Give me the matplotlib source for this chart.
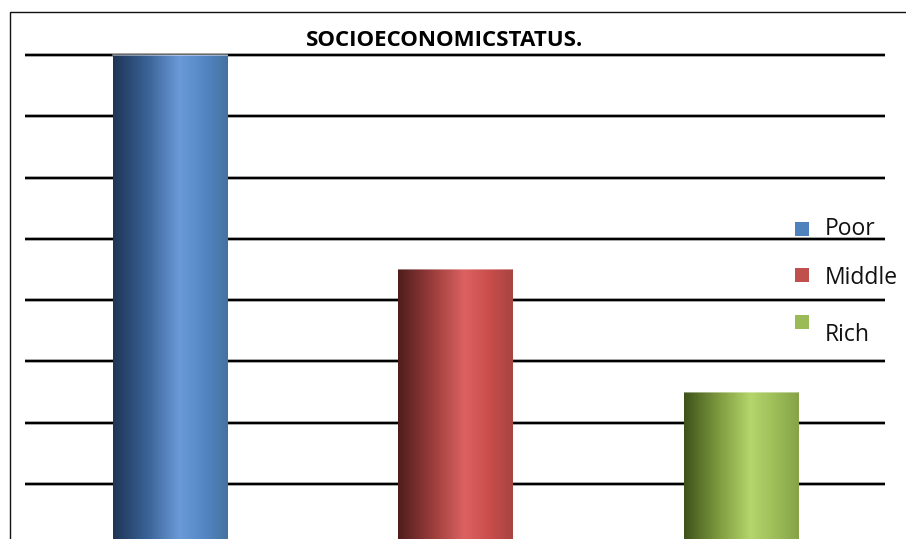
import matplotlib
matplotlib.use("Agg")
import matplotlib.pyplot as plt
import numpy as np
from matplotlib.colors import LinearSegmentedColormap
from matplotlib.patches import Rectangle

# data
categories = ["Poor", "Middle", "Rich"]
values = [80, 45, 25]
colors = ["#4f81bd", "#c0504d", "#9bbb59"]
shades = [
    ["#1e3556", "#3a6396", "#6a9ad8", "#5586c4", "#45729f"],
    ["#4e1d1c", "#9a3d3b", "#dc6262", "#c84d4b", "#a84442"],
    ["#3e521a", "#7e9a3e", "#b4d66c", "#9cbc58", "#86a348"],
]
grid_values = [10, 20, 30, 40, 50, 60, 70, 80]
title = "SOCIOECONOMICSTATUS."

W, H = 906, 539
fig = plt.figure(figsize=(W / 100, H / 100), dpi=100)

# outer frame (bottom and right run off the picture)
fig.patches.append(Rectangle((10 / W, -0.1), 1.2, 1.1 - 11.5 / H,
                             transform=fig.transFigure, fill=False,
                             edgecolor="#111111", linewidth=1.0))

# axes: value 0 at y=545px, 80 at y=55px; x from 25 to 885px
y0 = (H - 545) / H
hpx = 545 - 55
ax = fig.add_axes([25 / W, y0, (885 - 25) / W, (hpx * 85 / 80) / H])
ax.axis("off")

for g in grid_values:
    ax.axhline(g, color="#b8b8b8", linewidth=2.8, zorder=1)
    ax.axhline(g, color="black", linewidth=1.6, zorder=1.1)

x = np.arange(len(categories))
bars = ax.bar(x, values, width=0.40, color=colors, zorder=2,
              edgecolor="none")

for bar, sh in zip(bars, shades):
    cmap = LinearSegmentedColormap.from_list(
        "c", list(zip([0.0, 0.3, 0.58, 0.8, 1.0], sh)))
    grad = np.linspace(0, 1, 256).reshape(1, -1)
    bx, by = bar.get_x(), bar.get_y()
    bw, bh = bar.get_width(), bar.get_height()
    im = ax.imshow(grad, extent=[bx, bx + bw, by, by + bh], aspect="auto",
                   cmap=cmap, zorder=3, interpolation="bicubic")
    im.set_clip_path(bar)
    # faint light rim at the top of each bar
    ax.plot([bx, bx + bw], [by + bh, by + bh], color="white", alpha=0.5,
            linewidth=1.2, zorder=4)
ax.set_xlim(-0.508, 2.504)
ax.set_ylim(0, 85)

fig.text(445 / W, 1 - 46 / H, title, ha="center", va="baseline",
         fontsize=16, fontweight="bold", family="Open Sans")

# legend
sq_y = [229.5, 275, 322]
txt_y = [235, 284, 341]
for lab, c, sy, ty in zip(categories, colors, sq_y, txt_y):
    fig.patches.append(Rectangle((795 / W, 1 - (sy + 7) / H), 14 / W, 14 / H,
                                 transform=fig.transFigure, facecolor=c,
                                 edgecolor="none"))
    fig.text(825 / W, 1 - ty / H, lab, ha="left", va="baseline",
             fontsize=16.5, family="Open Sans", color="#111111")

fig.savefig("out.png", dpi=100)
